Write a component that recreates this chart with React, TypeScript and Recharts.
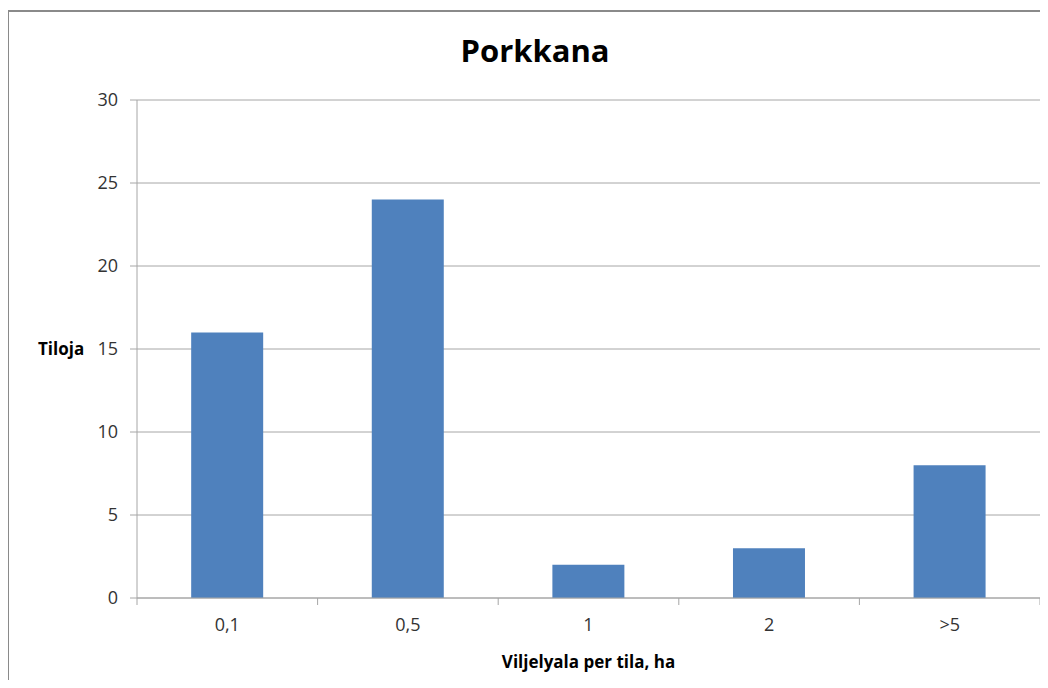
import React from 'react';
import { BarChart, Bar, XAxis, YAxis, CartesianGrid } from 'recharts';

const categories = ['0,1', '0,5', '1', '2', '>5'];
const farms = [16, 24, 2, 3, 8];
const yTicks = [0, 5, 10, 15, 20, 25, 30];

const data = categories.map((name, i) => ({ name, farms: farms[i] }));

const font = '"Open Sans", "Liberation Sans", sans-serif';
const axisColor = '#a6a6a6';
const TICK_SIZE = 7;
const TICK_MARGIN = 13;

// category label plus Excel-style tick marks on the band edges
function CategoryTick(props: any) {
  const { x, y, payload, index, visibleTicksCount, width } = props;
  const half = width / visibleTicksCount / 2;
  const axisY = y - TICK_SIZE - TICK_MARGIN;
  return (
    <g>
      <line x1={x - half} x2={x - half} y1={axisY} y2={axisY + TICK_SIZE} stroke={axisColor} />
      {index === visibleTicksCount - 1 && (
        <line x1={x + half} x2={x + half} y1={axisY} y2={axisY + TICK_SIZE} stroke={axisColor} />
      )}
      <text x={x} y={y} dy="0.71em" textAnchor="middle" fill="#333" fontSize={18} fontFamily={font}>
        {payload.value}
      </text>
    </g>
  );
}

export default function App() {
  return (
    <div style={{ position: 'relative', width: 1048, height: 688, margin: -8, overflow: 'hidden', background: '#fff', fontFamily: font }}>
      <div style={{ position: 'absolute', left: 7, top: 10, width: 1100, height: 800, borderLeft: '2px solid #8a8a8a', borderTop: '2px solid #8a8a8a' }} />
      <div style={{ position: 'absolute', left: 0, width: 1070, top: 29, textAlign: 'center', fontSize: 31, fontWeight: 700, color: '#000' }}>
        Porkkana
      </div>
      <BarChart
        width={1048}
        height={688}
        data={data}
        margin={{ top: 100, right: 8, left: 0, bottom: 0 }}
        barCategoryGap="30%"
        style={{ position: 'absolute', left: 0, top: 0 }}
      >
        <CartesianGrid vertical={false} stroke={axisColor} />
        <XAxis
          dataKey="name"
          height={90}
          interval={0}
          tickLine={false}
          axisLine={{ stroke: axisColor }}
          tickSize={TICK_SIZE}
          tickMargin={TICK_MARGIN}
          tick={<CategoryTick />}
          label={{ value: 'Viljelyala per tila, ha', position: 'insideBottom', offset: 20, fill: '#000', fontSize: 17, fontWeight: 700, fontFamily: font }}
        />
        <YAxis
          width={137}
          domain={[0, 30]}
          ticks={yTicks}
          interval={0}
          tickSize={7}
          tickMargin={12}
          axisLine={{ stroke: axisColor }}
          tickLine={{ stroke: axisColor }}
          tick={{ fill: '#333', fontSize: 18, fontFamily: font }}
          label={{ value: 'Tiloja', position: 'insideLeft', offset: 38, fill: '#000', fontSize: 17, fontWeight: 700, fontFamily: font }}
        />
        <Bar dataKey="farms" fill="#4f81bd" isAnimationActive={false} />
      </BarChart>
    </div>
  );
}
